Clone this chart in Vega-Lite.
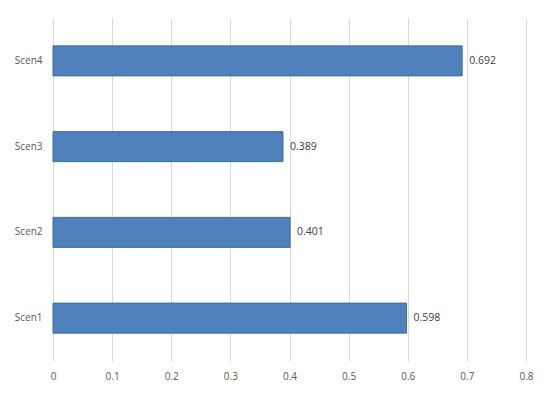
{
  "$schema": "https://vega.github.io/schema/vega-lite/v6.json",
  "width": 473,
  "height": 343,
  "autosize": "none",
  "padding": {"left": 53, "top": 18, "right": 24, "bottom": 34},
  "background": "white",
  "data": {"values": [
    {"scenario": "Scen1", "value": 0.598},
    {"scenario": "Scen2", "value": 0.401},
    {"scenario": "Scen3", "value": 0.389},
    {"scenario": "Scen4", "value": 0.692}
  ]},
  "encoding": {
    "y": {
      "field": "scenario", "type": "nominal",
      "sort": ["Scen4", "Scen3", "Scen2", "Scen1"],
      "scale": {"paddingInner": 0.65, "paddingOuter": 0.325},
      "axis": {"title": null, "domain": false, "ticks": false, "labelPadding": 11, "labelFont": "Open Sans", "labelFontSize": 10, "labelColor": "#595959", "grid": false}
    },
    "x": {
      "field": "value", "type": "quantitative",
      "scale": {"domain": [0, 0.8], "nice": false},
      "axis": {"title": null, "domain": false, "ticks": false, "labelFlush": false, "values": [0, 0.1, 0.2, 0.3, 0.4, 0.5, 0.6, 0.7, 0.8], "format": ".1~f", "labelPadding": 10, "labelFont": "Open Sans", "labelFontSize": 10, "labelColor": "#595959", "grid": true, "gridColor": "#d9d9d9", "gridWidth": 1}
    }
  },
  "layer": [
    {"mark": {"type": "bar", "color": "#4F81BD", "stroke": "#41719C", "strokeWidth": 1}},
    {"mark": {"type": "text", "align": "left", "baseline": "middle", "dx": 7, "font": "Open Sans", "fontSize": 10.5, "color": "#404040"},
     "encoding": {"text": {"field": "value", "type": "quantitative", "format": ".3f"}}}
  ],
  "config": {"view": {"stroke": null}}
}
